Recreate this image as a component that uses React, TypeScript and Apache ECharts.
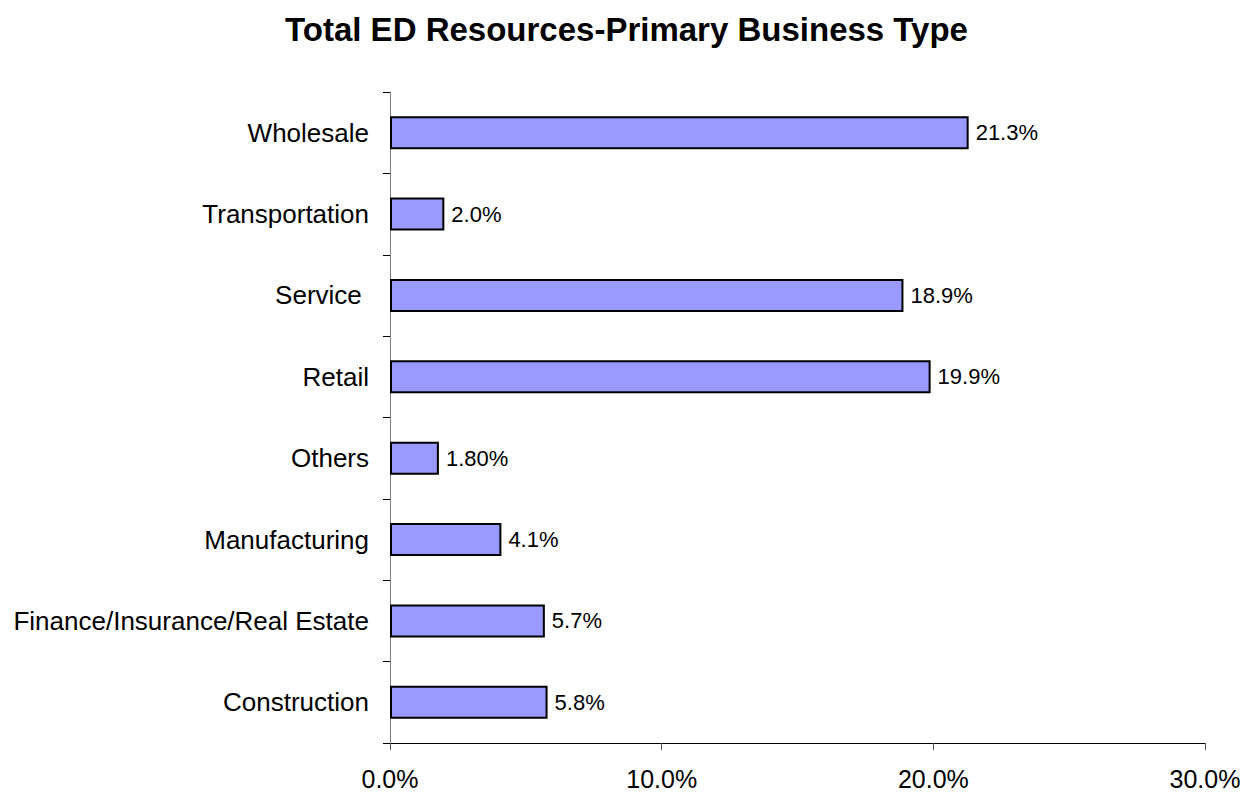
import React, { useEffect, useRef } from "react";
import * as echarts from "echarts";

const categories = [
  "Construction",
  "Finance/Insurance/Real Estate",
  "Manufacturing",
  "Others",
  "Retail",
  "Service ",
  "Transportation",
  "Wholesale",
];
const values = [5.8, 5.7, 4.1, 1.8, 19.9, 18.9, 2.0, 21.3];
const valueLabels = ["5.8%", "5.7%", "4.1%", "1.80%", "19.9%", "18.9%", "2.0%", "21.3%"];
const xTicks = [0, 10, 20, 30];

const FONT = "Liberation Sans, Arial, sans-serif";

export default function App() {
  const ref = useRef<HTMLDivElement>(null);
  useEffect(() => {
    const chart = echarts.init(ref.current!, null, { renderer: "svg" });
    chart.setOption({
      animation: false,
      backgroundColor: "#ffffff",
      title: {
        text: "Total ED Resources-Primary Business Type",
        left: "center",
        top: 8,
        textStyle: {
          fontFamily: FONT,
          fontWeight: "bold",
          fontSize: 33,
          color: "#000",
        },
      },
      grid: { left: 390, right: 48, top: 92, bottom: 52, containLabel: false },
      xAxis: {
        type: "value",
        min: xTicks[0],
        max: xTicks[xTicks.length - 1],
        interval: 10,
        axisLine: { show: true, lineStyle: { color: "#000", width: 1 } },
        axisTick: { show: true, length: 7, lineStyle: { color: "#555" } },
        splitLine: { show: false },
        axisLabel: {
          formatter: (v: number) => v.toFixed(1) + "%",
          fontFamily: FONT,
          fontSize: 25,
          color: "#000",
          margin: 23,
        },
      },
      yAxis: {
        type: "category",
        data: categories,
        axisLine: { show: true, lineStyle: { color: "#808080", width: 1 } },
        axisTick: { show: true, length: 7, lineStyle: { color: "#000" } },
        axisLabel: {
          fontFamily: FONT,
          fontSize: 26,
          color: "#000",
          margin: 21,
        },
      },
      series: [
        {
          type: "bar",
          data: values,
          barWidth: 33,
          itemStyle: { color: "#9999FF", borderColor: "#000", borderWidth: 2 },
          label: {
            show: true,
            position: "right",
            distance: 7,
            formatter: (p: any) => valueLabels[p.dataIndex],
            fontFamily: FONT,
            fontSize: 22,
            color: "#000",
          },
        },
      ],
    });
    return () => chart.dispose();
  }, []);
  return (
    <div
      ref={ref}
      style={{ position: "fixed", left: 0, top: 0, width: 1253, height: 795 }}
    />
  );
}
